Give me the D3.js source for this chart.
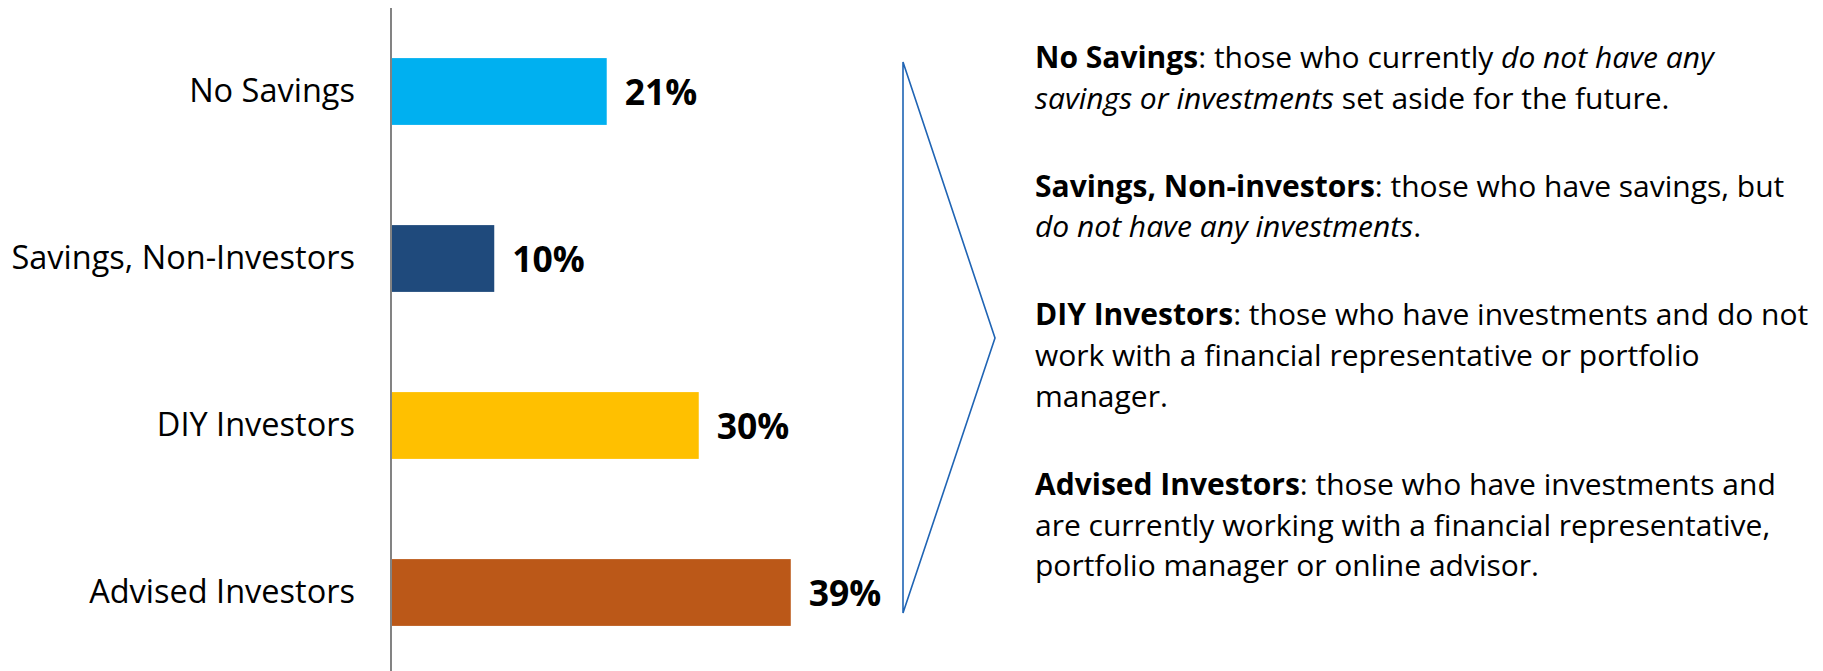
<!DOCTYPE html>
<html>
<head>
<meta charset="utf-8">
<script src="https://cdn.jsdelivr.net/npm/d3@7"></script>
<style>
  html, body { margin: 0; padding: 0; background: #fff; }
  svg { display: block; font-family: "Open Sans", "Noto Sans", sans-serif; }
</style>
</head>
<body>
<svg width="1823" height="671"></svg>
<script>
// categories and shares (%)
const categories = ["No Savings", "Savings, Non-Investors", "DIY Investors", "Advised Investors"];
const values = [21, 10, 30, 39];
const barColors = ["#00B0F0", "#1F4A7C", "#FFC000", "#BB5818"];

// definitions on the right, line by line: [text, style] (b = bold, i = italic)
const notes = [
  [
    [["No Savings", "b"], [": those who currently "], ["do not have any", "i"]],
    [["savings or investments", "i"], [" set aside for the future."]]
  ],
  [
    [["Savings, Non-investors", "b"], [": those who have savings, but"]],
    [["do not have any investments", "i"], ["."]]
  ],
  [
    [["DIY Investors", "b"], [": those who have investments and do not"]],
    [["work with a financial representative or portfolio"]],
    [["manager."]]
  ],
  [
    [["Advised Investors", "b"], [": those who have investments and"]],
    [["are currently working with a financial representative,"]],
    [["portfolio manager or online advisor."]]
  ]
];

const svg = d3.select("svg");
const width = +svg.attr("width");
const height = +svg.attr("height");

const x = d3.scaleLinear()
    .domain([0, 40])
    .range([392, 801]);

const y = d3.scaleBand()
    .domain(categories)
    .range([8, 676])
    .paddingInner(0.6)
    .paddingOuter(0.3);

// bars
svg.append("g")
  .selectAll("rect")
  .data(values)
  .join("rect")
    .attr("x", x(0))
    .attr("y", (d, i) => y(categories[i]))
    .attr("width", d => x(d) - x(0))
    .attr("height", y.bandwidth())
    .attr("fill", (d, i) => barColors[i]);

// value labels
svg.append("g")
  .selectAll("text")
  .data(values)
  .join("text")
    .attr("x", d => x(d) + 18)
    .attr("y", (d, i) => y(categories[i]) + y.bandwidth() / 2)
    .attr("dy", "0.37em")
    .attr("font-size", 35.5)
    .attr("font-weight", "bold")
    .attr("fill", "#000")
    .text(d => d + "%");

// category axis: a plain line, no ticks
const yAxis = svg.append("g")
    .attr("transform", `translate(${x(0) - 1},0)`)
    .call(d3.axisLeft(y).tickSize(0).tickPadding(36));

yAxis.select(".domain")
    .attr("d", `M0,8V${height}`)
    .attr("stroke", "#404040")
    .attr("stroke-width", 1.3);

yAxis.selectAll(".tick text")
    .attr("font-size", 32.5)
    .attr("font-family", "'Open Sans', 'Noto Sans', sans-serif")
    .attr("fill", "#000")
    .attr("dy", "0.33em");

// bracket pointing at the definitions
const bracket = [[903, 62], [995, 338], [903, 613]];
svg.append("path")
    .attr("d", d3.line()(bracket) + "Z")
    .attr("fill", "none")
    .attr("stroke", "#1F64B4")
    .attr("stroke-width", 1.6);

// definitions text
const lineH = 40.7;
const paraGap = 47.3;
let baseY = 68;
const textG = svg.append("g").attr("font-size", 30).attr("fill", "#000");
notes.forEach(para => {
  para.forEach(line => {
    const t = textG.append("text").attr("x", 1035).attr("y", baseY);
    line.forEach(seg => {
      t.append("tspan")
        .attr("font-weight", seg[1] === "b" ? "bold" : null)
        .attr("font-style", seg[1] === "i" ? "italic" : null)
        .text(seg[0]);
    });
    baseY += lineH;
  });
  baseY += paraGap;
});
</script>
</body>
</html>
